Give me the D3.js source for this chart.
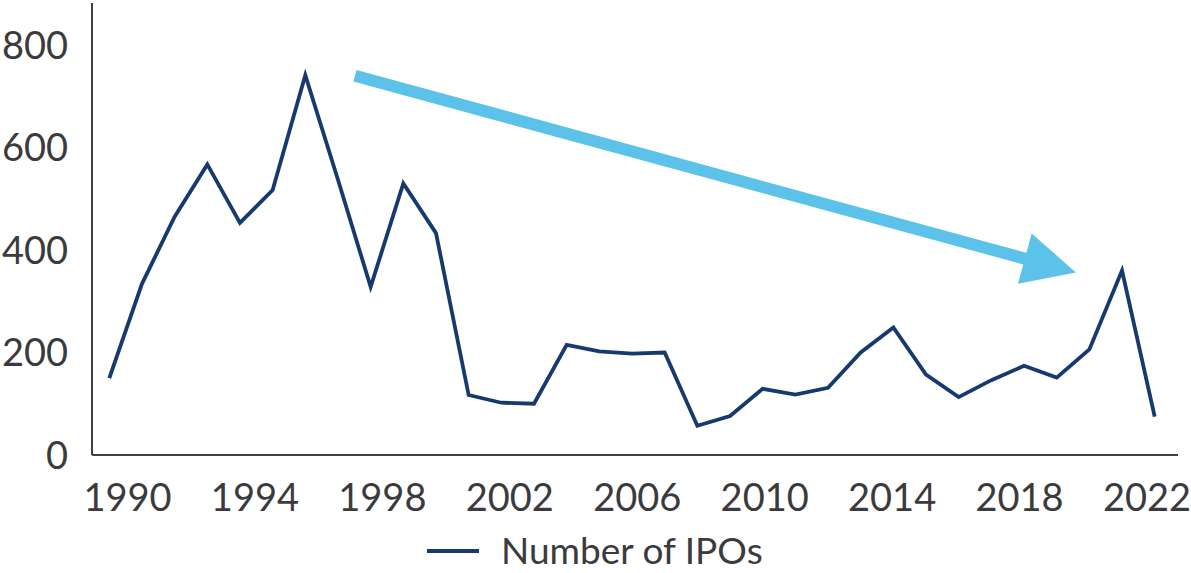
<!DOCTYPE html>
<html>
<head>
<meta charset="utf-8">
<script src="https://cdn.jsdelivr.net/npm/d3@7"></script>
<style>
  body { margin: 0; background: #fff; }
  svg text { font-family: Lato, "Open Sans", sans-serif; fill: #3b3b3d; }
</style>
</head>
<body>
<div id="chart"></div>
<script>
const years = d3.range(1990, 2023)
const ipos = [150, 334, 465, 567, 453, 517, 741, 537, 328, 530, 433, 117, 102, 100, 215, 202, 198, 200,
              57, 76, 129, 118, 131, 200, 249, 157, 113, 146, 174, 151, 206, 360, 75]
const yTicks = [0, 200, 400, 600, 800]
const xTicks = [1990, 1994, 1998, 2002, 2006, 2010, 2014, 2018, 2022]
const seriesName = "Number of IPOs"
// trend arrow, in year / value units
const trendFrom = [1997.52, 740]
const trendTo = [2019.59, 356]

const width = 1191, height = 573

const svg = d3.select("#chart").append("svg")
    .attr("width", width)
    .attr("height", height)

const x = d3.scaleLinear().domain([1990, 2022]).range([109.3, 1154.7])
// category labels sit on a slightly narrower spacing than the points
const xLabel = d3.scaleLinear().domain([1990, 2022]).range([127.5, 1147])
const y = d3.scaleLinear().domain([0, 800]).range([455, 45])

// axes lines
svg.append("line")
    .attr("x1", 92).attr("x2", 92)
    .attr("y1", 3).attr("y2", y(0))
    .attr("stroke", "#404042").attr("stroke-width", 2)
svg.append("line")
    .attr("x1", 92).attr("x2", 1178)
    .attr("y1", y(0)).attr("y2", y(0))
    .attr("stroke", "#404042").attr("stroke-width", 2.2)

svg.append("g")
    .selectAll("text")
    .data(yTicks)
    .enter().append("text")
    .attr("x", 68)
    .attr("y", d => y(d))
    .attr("dy", "0.36em")
    .attr("text-anchor", "end")
    .style("font-size", "38px")
    .text(d => d)

svg.append("g")
    .selectAll("text")
    .data(xTicks)
    .enter().append("text")
    .attr("x", d => xLabel(d))
    .attr("y", 497)
    .attr("dy", "0.36em")
    .attr("text-anchor", "middle")
    .style("font-size", "38px")
    .text(d => d)

const line = d3.line()
    .x((d, i) => x(years[i]))
    .y(d => y(d))

svg.append("path")
    .datum(ipos)
    .attr("fill", "none")
    .attr("stroke", "#173a6e")
    .attr("stroke-width", 3.8)
    .attr("stroke-linejoin", "miter")
    .attr("d", line)

// trend arrow
const ax0 = x(trendFrom[0]), ay0 = y(trendFrom[1])
const ax1 = x(trendTo[0]), ay1 = y(trendTo[1])
const ang = Math.atan2(ay1 - ay0, ax1 - ax0)
const headLen = 53, headHalf = 26, shaftHalf = 6
const len = Math.hypot(ax1 - ax0, ay1 - ay0)
const pts = [
    [0, -shaftHalf], [len - headLen, -shaftHalf], [len - headLen, -headHalf],
    [len, 0], [len - headLen, headHalf], [len - headLen, shaftHalf], [0, shaftHalf]
].map(([u, v]) => [ax0 + u * Math.cos(ang) - v * Math.sin(ang), ay0 + u * Math.sin(ang) + v * Math.cos(ang)])

svg.append("polygon")
    .attr("points", pts.map(p => p.join(",")).join(" "))
    .attr("fill", "#5cc2ea")

// legend
const legend = svg.append("g").attr("transform", "translate(427,551)")
legend.append("line")
    .attr("x1", 0).attr("x2", 52)
    .attr("stroke", "#173a6e").attr("stroke-width", 4)
legend.append("text")
    .attr("x", 74)
    .attr("dy", "0.36em")
    .style("font-size", "37px")
    .text(seriesName)
</script>
</body>
</html>
